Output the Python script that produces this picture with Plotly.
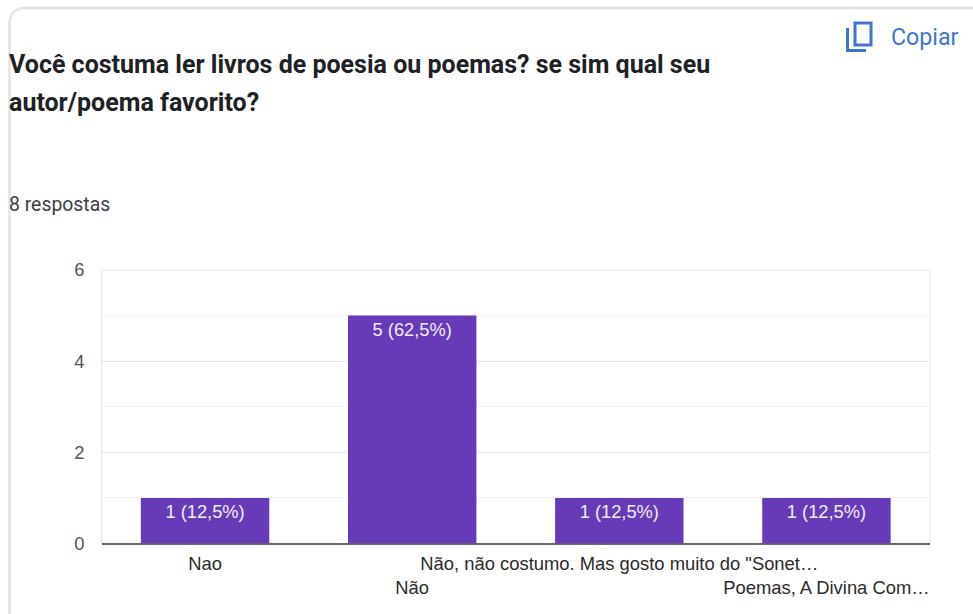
import plotly.graph_objects as go

W, H = 973, 614

# Survey answers and their counts
categories = ["Nao", "Não", 'Não, não costumo. Mas gosto muito do "Sonet…', "Poemas, A Divina Com…"]
counts = [1, 5, 1, 1]
bar_labels = ["1 (12,5%)", "5 (62,5%)", "1 (12,5%)", "1 (12,5%)"]
y_ticks = [0, 2, 4, 6]

TITLE_LINES = ["Você costuma ler livros de poesia ou poemas? se sim qual seu", "autor/poema favorito?"]
RESPONSES = "8 respostas"
COPY = "Copiar"

BLUE = "#3f74d1"
PURPLE = "#673ab7"


def px(x):
    return x / W


def py(y):
    return 1 - y / H


def line_shape(path, color, width):
    return dict(type="path", xref="paper", yref="paper", path=path,
                line=dict(color=color, width=width), layer="above")


def to_path(points):
    return "M " + " L ".join(f"{px(x):.5f},{py(y):.5f}" for x, y in points)


# Tick text alternates between two rows so the long answers do not collide
tick_text = [c if i % 2 == 0 else "<br>" + c for i, c in enumerate(categories)]

fig = go.Figure(go.Bar(
    x=list(range(len(categories))),
    y=counts,
    text=bar_labels,
    textposition="inside",
    insidetextanchor="end",
    textangle=0,
    constraintext="none",
    textfont=dict(family="Liberation Sans", size=18.3, color="#f1ecf9"),
    marker=dict(color=PURPLE, line=dict(width=0)),
    width=0.62,
    hoverinfo="skip",
))

# Card outline, rounded at the top left corner
card = (f"M {px(9.5)},{py(614)} L {px(9.5)},{py(24)} "
        f"Q {px(9.5)},{py(8)} {px(26)},{py(8)} L {px(973)},{py(8)}")

# Copy icon: front sheet and the corner of the sheet behind it
icon = [
    (f"M {px(855)},{py(23)} L {px(871)},{py(23)} L {px(871)},{py(45)} "
     f"L {px(855)},{py(45)} Z"),
    to_path([(847.5, 28), (847.5, 50.5), (866, 50.5)]),
]

shapes = [line_shape(card, "#e4e4e4", 2.5)]
shapes += [line_shape(p, BLUE, 3) for p in icon]
# Faint frame around the plot area
shapes.append(dict(type="rect", xref="x domain", yref="y domain", x0=0, x1=1, y0=0, y1=1,
                   line=dict(color="#e8e8e8", width=1), layer="below"))

annotations = [
    dict(text=f"<b>{TITLE_LINES[0]}</b>", x=px(9), y=py(64), xanchor="left", yanchor="middle",
         font=dict(family="Roboto", size=25, color="#202124")),
    dict(text=f"<b>{TITLE_LINES[1]}</b>", x=px(9), y=py(103), xanchor="left", yanchor="middle",
         font=dict(family="Roboto", size=25, color="#202124")),
    dict(text=RESPONSES, x=px(9), y=py(205), xanchor="left", yanchor="middle",
         font=dict(family="Roboto", size=19.4, color="#3c4043")),
    dict(text=COPY, x=px(891), y=py(37), xanchor="left", yanchor="middle",
         font=dict(family="Roboto", size=23.2, color=BLUE)),
]
for a in annotations:
    a.update(xref="paper", yref="paper", showarrow=False, borderpad=0, borderwidth=0)

fig.update_layout(
    width=W,
    height=H,
    margin=dict(l=0, r=0, t=0, b=0, autoexpand=False),
    paper_bgcolor="#ffffff",
    plot_bgcolor="#ffffff",
    showlegend=False,
    shapes=shapes,
    annotations=annotations,
    xaxis=dict(
        domain=[px(101.5), px(930)],
        range=[-0.5, 3.5],
        tickmode="array",
        tickvals=list(range(len(categories))),
        ticktext=tick_text,
        tickangle=0,
        ticks="",
        showgrid=False,
        zeroline=False,
        showline=False,
        tickfont=dict(family="Liberation Sans", size=18.4, color="#2b2b2b"),
        ticklabelstandoff=7,
    ),
    yaxis=dict(
        domain=[py(543.5), py(270)],
        range=[0, 6],
        tickmode="array",
        tickvals=y_ticks,
        ticks="",
        ticklabelstandoff=16,
        showgrid=True,
        gridcolor="#e6e6e6",
        gridwidth=1,
        minor=dict(dtick=1, showgrid=True, gridcolor="#f2f2f2", gridwidth=1, ticks=""),
        zeroline=True,
        zerolinecolor="#666666",
        zerolinewidth=2,
        showline=False,
        tickfont=dict(family="Liberation Sans", size=18.4, color="#555555"),
    ),
)

fig.write_html("out.html", config=dict(displayModeBar=False))
